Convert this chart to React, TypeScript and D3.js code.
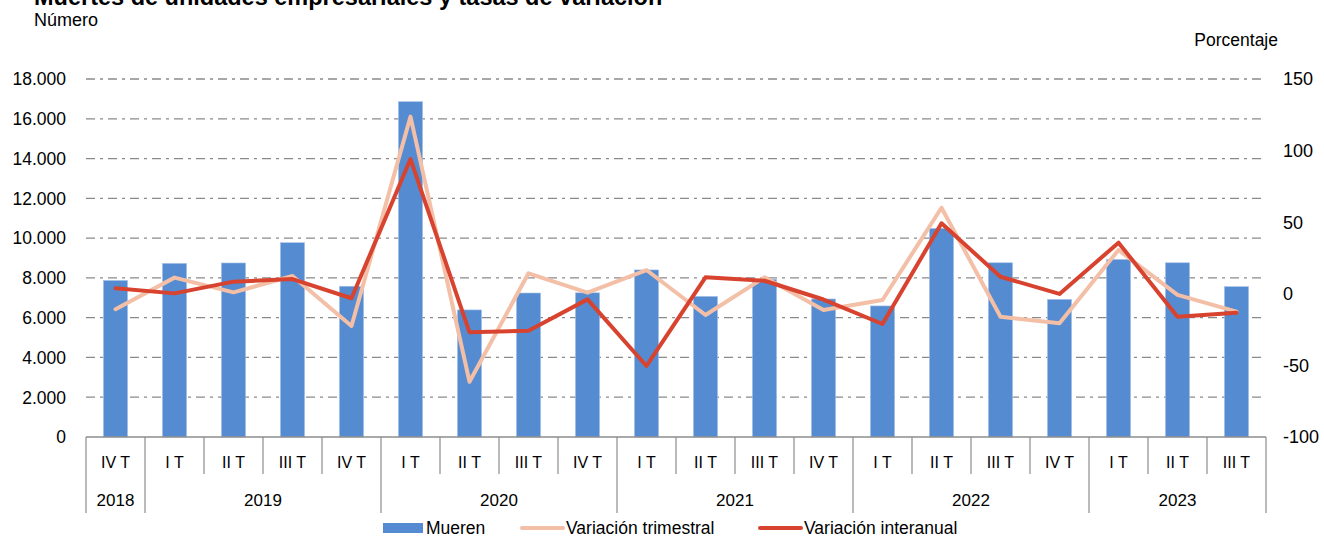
import React from "react";
import * as d3 from "d3";

const quarters = ["IV T","I T","II T","III T","IV T","I T","II T","III T","IV T","I T","II T","III T","IV T","I T","II T","III T","IV T","I T","II T","III T"];
const years = [
  { label: "2018", start: 0, end: 0 },
  { label: "2019", start: 1, end: 4 },
  { label: "2020", start: 5, end: 8 },
  { label: "2021", start: 9, end: 12 },
  { label: "2022", start: 13, end: 16 },
  { label: "2023", start: 17, end: 19 },
];
const mueren = [7870, 8730, 8750, 9770, 7580, 16860, 6390, 7240, 7250, 8400, 7070, 7930, 6940, 6590, 10490, 8760, 6920, 8930, 8760, 7560];
const varTrimestral = [-10.8, 11.3, 1.0, 12.4, -22.5, 123.7, -61.4, 14.3, 0.8, 16.6, -14.8, 11.5, -11.3, -4.3, 60.1, -16.0, -20.6, 30.6, -0.8, -12.5];
const varInteranual = [3.8, 0.3, 8.5, 10.3, -3.1, 94.1, -26.9, -25.8, -3.9, -50.4, 11.5, 9.1, -4.0, -21.1, 49.2, 11.9, -0.1, 35.7, -16.0, -13.2];
const leftTicks = [0, 2000, 4000, 6000, 8000, 10000, 12000, 14000, 16000, 18000];
const rightTicks = [-100, -50, 0, 50, 100, 150];

const W = 1324, H = 538;
const x0 = 86, x1 = 1266, yTop = 79, yBot = 437;
const font = "'Liberation Sans', Arial, sans-serif";

export default function App() {
  const idx = quarters.map((_, i) => i);
  const x = d3.scaleBand<number>().domain(idx).range([x0, x1]).padding(0);
  const yL = d3.scaleLinear().domain([0, 18000]).range([yBot, yTop]);
  const yR = d3.scaleLinear().domain([-100, 150]).range([yBot, yTop]);
  const bw = x.bandwidth() * 0.41;
  const cx = (i: number) => (x(i) as number) + x.bandwidth() / 2;
  const fmt = (v: number) => d3.format(",")(v).replace(/,/g, ".");
  const line = (arr: number[]) =>
    d3.line<number>().x((_, i) => cx(i)).y((v) => yR(v))(arr) as string;

  return (
    <svg width={W} height={H} style={{ position: "absolute", left: 0, top: 0 }} fontFamily={font}>
      <text x={34} y={5} fontSize={23.5} fontWeight="bold" fill="#000">Muertes de unidades empresariales y tasas de variación</text>
      <text x={34} y={26} fontSize={18} fill="#000">Número</text>
      <text x={1278} y={46} fontSize={17.5} fill="#000" textAnchor="end">Porcentaje</text>

      {leftTicks.filter((t) => t > 0).map((t) => (
        <line key={"g" + t} x1={x0} x2={x1} y1={yL(t)} y2={yL(t)} stroke="#8a8a8a" strokeWidth={1.3} strokeDasharray="9,5,3,5" />
      ))}
      {leftTicks.map((t) => (
        <text key={"l" + t} x={66} y={yL(t)} dy="0.36em" fontSize={17.5} textAnchor="end" fill="#000">{fmt(t)}</text>
      ))}
      {rightTicks.map((t) => (
        <text key={"r" + t} x={1283} y={yR(t)} dy="0.36em" fontSize={18} textAnchor="start" fill="#000">{t}</text>
      ))}

      {mueren.map((v, i) => (
        <rect key={"b" + i} x={cx(i) - bw / 2} y={yL(v)} width={bw} height={yBot - yL(v)} fill="#558BD0" stroke="#a9c4e8" strokeWidth={0.6} />
      ))}

      <path d={line(varTrimestral)} fill="none" stroke="#F3BFA6" strokeWidth={4} strokeLinejoin="round" strokeLinecap="round" />
      <path d={line(varInteranual)} fill="none" stroke="#D8432F" strokeWidth={4} strokeLinejoin="round" strokeLinecap="round" />

      <line x1={x0} x2={x1} y1={yBot} y2={yBot} stroke="#8c8c8c" strokeWidth={1.5} />
      {idx.map((i) => {
        const isYearStart = years.some((yy) => yy.start === i);
        const xx = x(i) as number;
        return <line key={"t" + i} x1={xx} x2={xx} y1={yBot} y2={isYearStart ? 513 : 474} stroke="#8c8c8c" strokeWidth={1.2} />;
      })}
      <line x1={x1} x2={x1} y1={yBot} y2={513} stroke="#8c8c8c" strokeWidth={1.2} />
      {quarters.map((q, i) => (
        <text key={"q" + i} x={cx(i)} y={462} dy="0.36em" fontSize={16} textAnchor="middle" fill="#000">{q}</text>
      ))}
      {years.map((yy) => {
        const xs = x(yy.start) as number;
        const xe = (x(yy.end) as number) + x.bandwidth();
        return <text key={yy.label} x={(xs + xe) / 2} y={500} dy="0.36em" fontSize={17} textAnchor="middle" fill="#000">{yy.label}</text>;
      })}

      <rect x={383} y={523} width={40} height={10} fill="#558BD0" />
      <text x={426} y={528} dy="0.36em" fontSize={17.5} fill="#000">Mueren</text>
      <line x1={522} x2={563} y1={528} y2={528} stroke="#F3BFA6" strokeWidth={4} strokeLinecap="round" />
      <text x={566} y={528} dy="0.36em" fontSize={17.5} fill="#000">Variación trimestral</text>
      <line x1={760} x2={801} y1={528} y2={528} stroke="#D8432F" strokeWidth={4} strokeLinecap="round" />
      <text x={804} y={528} dy="0.36em" fontSize={17.5} fill="#000">Variación interanual</text>
    </svg>
  );
}
